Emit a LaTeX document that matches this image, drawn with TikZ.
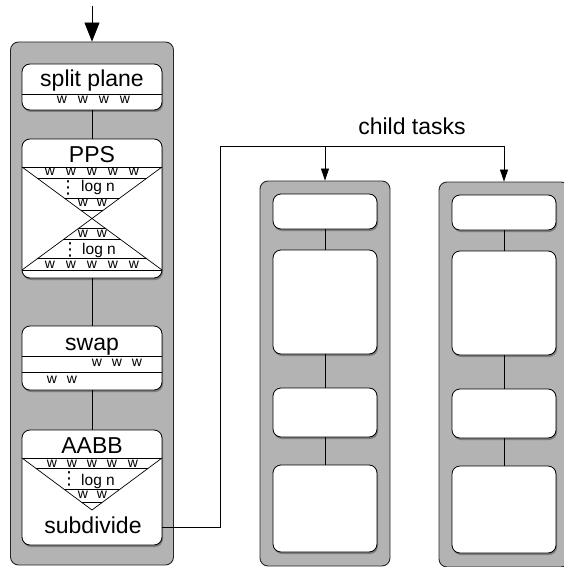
\documentclass[tikz,border=0pt]{standalone}
\usepackage{fontspec}
\setmainfont{Liberation Sans}
\newfontfamily\dejavu{DejaVu Sans}
\usetikzlibrary{shadows,arrows.meta}
\definecolor{panelgray}{RGB}{179,179,179}
\begin{document}
\begin{tikzpicture}[x=1pt,y=-1pt,
  panel/.style={draw=black!85,line width=0.9pt,fill=panelgray,rounded corners=8pt,inner sep=0pt},
  box/.style={draw=black,line width=0.8pt,fill=white,rounded corners=8pt,inner sep=0pt,
    drop shadow={shadow xshift=1pt,shadow yshift=-2pt,opacity=0.3,fill=black}},
  title/.style={font=\fontsize{23}{27}\selectfont,inner sep=0pt,anchor=base},
  wt/.style={font=\fontsize{14}{16}\selectfont,inner sep=0pt},
  logt/.style={font=\fontsize{15.5}{18}\selectfont,inner sep=0pt,anchor=base},
  vdot/.style={font=\dejavu\fontsize{18}{20}\selectfont,inner sep=0pt},
  conn/.style={line width=0.8pt},
  inner/.style={line width=0.7pt},
  arr/.style={conn,-{Triangle[length=12pt,width=8pt]}},
  bigarr/.style={conn,-{Triangle[length=19pt,width=15pt]}}]
\useasboundingbox (0,0) rectangle (563,567);

% panels
\node[panel,minimum width=163pt,minimum height=523pt] (main) at (92,303.5) {};
\node[panel,minimum width=130pt,minimum height=385pt] (ch1) at (325,373.5) {};
\node[panel,minimum width=130pt,minimum height=385pt] (ch2) at (504,374.5) {};

% main boxes
\node[box,minimum width=140pt,minimum height=46pt] (split) at (92,87) {};
\node[box,minimum width=140pt,minimum height=139pt] (pps) at (92,208.5) {};
\node[box,minimum width=140pt,minimum height=64pt] (swap) at (92,358) {};
\node[box,minimum width=140pt,minimum height=115pt] (aabb) at (92,487.5) {};

% child boxes
\node[box,minimum width=104pt,minimum height=35pt] (a1) at (325,211.5) {};
\node[box,minimum width=104pt,minimum height=104pt] (a2) at (325,302) {};
\node[box,minimum width=104pt,minimum height=49pt] (a3) at (325,412.5) {};
\node[box,minimum width=104pt,minimum height=87pt] (a4) at (325,508.5) {};
\node[box,minimum width=104pt,minimum height=35pt] (b1) at (504,212.5) {};
\node[box,minimum width=104pt,minimum height=104pt] (b2) at (504,303) {};
\node[box,minimum width=104pt,minimum height=49pt] (b3) at (504,413.5) {};
\node[box,minimum width=104pt,minimum height=87pt] (b4) at (504,509.5) {};

% connectors inside panels
\draw[conn] (split.south) -- (pps.north);
\draw[conn] (pps.south) -- (swap.north);
\draw[conn] (swap.south) -- (aabb.north);
\draw[conn] (a1.south) -- (a2.north);
\draw[conn] (a2.south) -- (a3.north);
\draw[conn] (a3.south) -- (a4.north);
\draw[conn] (b1.south) -- (b2.north);
\draw[conn] (b2.south) -- (b3.north);
\draw[conn] (b3.south) -- (b4.north);

% input arrow
\coordinate (in) at (92,6);
\draw[bigarr] (in) -- (main.north);

% split plane
\node[title] (tsplit) at (92,87) {split plane};
\draw[inner] (22,94) -- (162,94);
\foreach \x [count=\i] in {62,83,104,125} \node[wt] (sw\i) at (\x,100) {w};

% PPS
\node[title] (tpps) at (92,162) {PPS};
\draw[inner] (22,167) -- (162,167);
\draw[inner] (22,270) -- (162,270);
\draw[inner] (22,167) -- (162,270);
\draw[inner] (162,167) -- (22,270);
\begin{scope}
  \clip (22,167) -- (162,167) -- (92,218.5) -- cycle;
  \foreach \y in {178,198,210} \draw[inner] (0,\y) -- (200,\y);
\end{scope}
\begin{scope}
  \clip (92,218.5) -- (162,270) -- (22,270) -- cycle;
  \foreach \y in {228,239,258} \draw[inner] (0,\y) -- (200,\y);
\end{scope}
\foreach \x [count=\i] in {50,71,92,113,134} \node[wt] (pw\i) at (\x,172) {w};
\node[vdot] (pd1) at (68,187.5) {⋮};
\node[logt] (pl1) at (98,191) {log n};
\foreach \x [count=\i] in {83,102} \node[wt] (pv\i) at (\x,203) {w};
\foreach \x [count=\i] in {83,102} \node[wt] (pu\i) at (\x,233.5) {w};
\node[vdot] (pd2) at (70,250) {⋮};
\node[logt] (pl2) at (99,254) {log n};
\foreach \x [count=\i] in {50,71,92,113,134} \node[wt] (px\i) at (\x,264.5) {w};

% swap
\node[title] (tswap) at (92,350) {swap};
\draw[inner] (22,356) -- (162,356);
\draw[inner] (22,372) -- (162,372);
\foreach \x [count=\i] in {97,117,137} \node[wt] (ww\i) at (\x,363) {w};
\foreach \x [count=\i] in {52,72} \node[wt] (wv\i) at (\x,380) {w};

% AABB
\node[title] (taabb) at (92,453) {AABB};
\draw[inner] (22,458) -- (162,458);
\draw[inner] (22,458) -- (92,510) -- (162,458);
\begin{scope}
  \clip (22,458) -- (162,458) -- (92,510) -- cycle;
  \foreach \y in {468,489,502} \draw[inner] (0,\y) -- (200,\y);
\end{scope}
\foreach \x [count=\i] in {52,72,92,112,133} \node[wt] (aw\i) at (\x,463.5) {w};
\node[vdot] (ad1) at (69,479) {⋮};
\node[logt] (al1) at (98,485) {log n};
\foreach \x [count=\i] in {83,102} \node[wt] (av\i) at (\x,495) {w};
\node[title] (sub) at (93,533) {subdivide};

% child tasks connector
\coordinate (exit) at (aabb.east |- 0,527);
\coordinate (bend) at (220,146);
\coordinate (br1) at (ch1.north |- bend);
\draw[arr] (exit) -| (bend) -| (ch2.north);
\draw[arr] (br1) -- (ch1.north);
\node[title] (tchild) at (412,134) {child tasks};
\end{tikzpicture}
\end{document}
